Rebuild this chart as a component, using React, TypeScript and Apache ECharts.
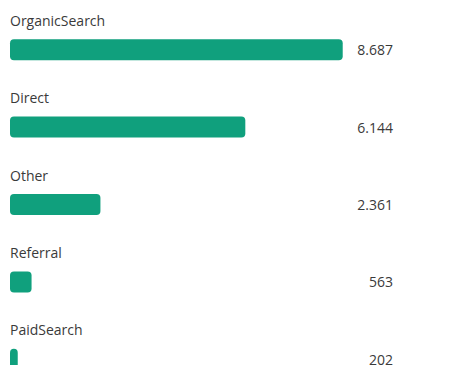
import React, { useEffect, useRef } from "react";
import * as echarts from "echarts";

const categories = ["OrganicSearch", "Direct", "Other", "Referral", "PaidSearch"];
const values = [8687, 6144, 2361, 563, 202];

const fmt = (v: number) => v.toString().replace(/\B(?=(\d{3})+(?!\d))/g, ".");

export default function App() {
  const ref = useRef<HTMLDivElement>(null);
  useEffect(() => {
    if (!ref.current) return;
    const chart = echarts.init(ref.current, undefined, { renderer: "svg" });
    const font = "'Open Sans', sans-serif";
    chart.setOption({
      animation: false,
      backgroundColor: "#ffffff",
      grid: { left: 10, top: 11, width: 383, height: 387, outerBoundsMode: "none", containLabel: false },
      xAxis: {
        type: "value",
        min: 0,
        max: 10000,
        show: false,
      },
      yAxis: [
        {
          type: "category",
          data: categories,
          inverse: true,
          position: "left",
          axisLine: { show: false },
          axisTick: { show: false },
          splitLine: { show: false },
          axisLabel: { show: false },
        },
        {
          type: "category",
          data: values.map(fmt),
          inverse: true,
          position: "right",
          axisLine: { show: false },
          axisTick: { show: false },
          splitLine: { show: false },
          axisLabel: {
            inside: true,
            margin: 0,
            color: "#3a3a3a",
            fontSize: 14,
            fontFamily: font,
            padding: [3, 0, 0, 0],
          },
        },
      ],
      series: [
        {
          type: "bar",
          data: values,
          yAxisIndex: 0,
          barWidth: 21,
          itemStyle: { color: "#10a07d", borderRadius: 4 },
          label: {
            show: true,
            position: [0, -19],
            formatter: "{b}",
            align: "left",
            verticalAlign: "middle",
            color: "#3a3a3a",
            fontSize: 14,
            fontFamily: font,
          },
        },
      ],
    });
    return () => chart.dispose();
  }, []);
  return <div ref={ref} style={{ width: 473, height: 365, position: "absolute", left: 0, top: 0 }} />;
}
